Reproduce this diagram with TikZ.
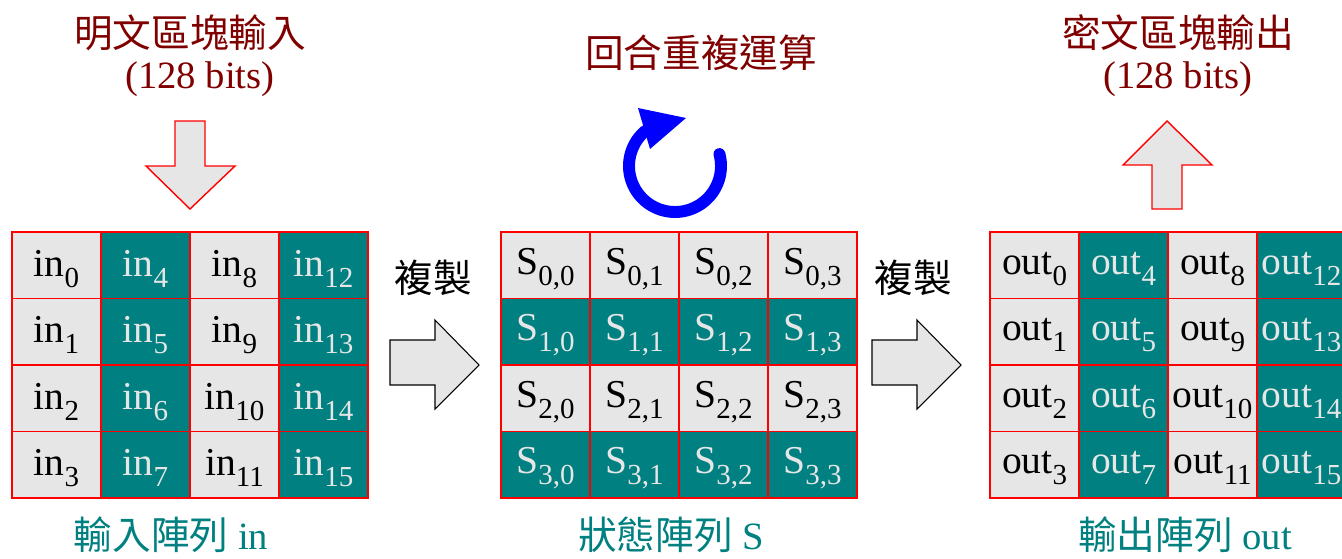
\documentclass[tikz,border=0pt]{standalone}
\usepackage{fontspec}
\setmainfont{Liberation Serif}
\newfontfamily\cjk{Noto Sans CJK TC}
\definecolor{tealc}{HTML}{008080}
\definecolor{cellgray}{HTML}{E6E6E6}
\definecolor{darkred}{HTML}{800000}
\newcommand\sbx[1]{\raisebox{-0.6ex}{\fontsize{16.5}{16.5}\selectfont #1}}
\tikzset{
  cellg/.style={draw=red, line width=0.8pt, fill=cellgray, minimum width=89*0.5669pt, minimum height=66.5*0.5669pt, inner sep=0pt},
  cellt/.style={cellg, fill=tealc},
  celltext/.style={yshift=-2pt, inner sep=0pt, font=\fontsize{22.5}{22.5}\selectfont},
  title/.style={text=darkred, font=\fontsize{22}{26}\selectfont, align=center},
  blabel/.style={text=tealc, font=\fontsize{22}{26}\selectfont},
  clabel/.style={text=black, font=\fontsize{22}{26}\selectfont},
  bigarrowr/.style={draw=red, fill=cellgray, line width=0.8pt},
  bigarrowk/.style={draw=black, fill=cellgray, line width=0.6pt}
}
\begin{document}
\begin{tikzpicture}[x=0.02cm, y=-0.02cm]
\useasboundingbox (0,0) rectangle (1342,558);
% grid 1 (in)
\foreach \c in {0,1,2,3}{
  \foreach \r in {0,1,2,3}{
    \pgfmathtruncatemacro\idx{4*\c+\r}
    \pgfmathtruncatemacro\odd{mod(\c,2)}
    \ifnum\odd=0
      \node[cellg] (in-\r-\c) at ({12+89*\c+44.5},{232+66.5*\r+33.25}) {};
      \def\tc{black}
    \else
      \node[cellt] (in-\r-\c) at ({12+89*\c+44.5},{232+66.5*\r+33.25}) {};
      \def\tc{cellgray}
    \fi
    \node[celltext, text=\tc] (inT-\r-\c) at (in-\r-\c) {in\sbx{\idx}};
  }
}
% grid 2 (S)
\foreach \c in {0,1,2,3}{
  \foreach \r in {0,1,2,3}{
    \pgfmathtruncatemacro\odd{mod(\r,2)}
    \ifnum\odd=0
      \node[cellg] (s-\r-\c) at ({501+89*\c+44.5},{232+66.5*\r+33.25}) {};
      \def\tc{black}
    \else
      \node[cellt] (s-\r-\c) at ({501+89*\c+44.5},{232+66.5*\r+33.25}) {};
      \def\tc{cellgray}
    \fi
    \node[celltext, text=\tc] (sT-\r-\c) at (s-\r-\c) {S\sbx{\r,\c}};
  }
}
% grid 3 (out)
\foreach \c in {0,1,2,3}{
  \foreach \r in {0,1,2,3}{
    \pgfmathtruncatemacro\idx{4*\c+\r}
    \pgfmathtruncatemacro\odd{mod(\c,2)}
    \ifnum\odd=0
      \node[cellg] (out-\r-\c) at ({990+89*\c+44.5},{232+66.5*\r+33.25}) {};
      \def\tc{black}
    \else
      \node[cellt] (out-\r-\c) at ({990+89*\c+44.5},{232+66.5*\r+33.25}) {};
      \def\tc{cellgray}
    \fi
    \node[celltext, text=\tc] (outT-\r-\c) at (out-\r-\c) {out\sbx{\idx}};
  }
}
% titles
\node[title] (t1) at (190,33) {\cjk 明文區塊輸入};
\node[title] (t1b) at (200,79) {(128 bits)};
\node[title] (t2) at (701,53) {\cjk 回合重複運算};
\node[title] (t3) at (1178,33) {\cjk 密文區塊輸出};
\node[title] (t3b) at (1178,79) {(128 bits)};
% bottom labels
\node[blabel] (b1) at (171,535) {{\cjk 輸入陣列} in};
\node[blabel] (b2) at (671,535) {{\cjk 狀態陣列} S};
\node[blabel] (b3) at (1185,535) {{\cjk 輸出陣列} out};
% copy labels
\node[clabel] (c1) at (433,278) {\cjk 複製};
\node[clabel] (c2) at (913,278) {\cjk 複製};
% down arrow
\draw[bigarrowr] (175,121) -- (205,121) -- (205,166) -- (235,166) -- (190,209) -- (146,166) -- (175,166) -- cycle;
% up arrow
\draw[bigarrowr] (1167,121) -- (1212,165) -- (1182,165) -- (1182,209) -- (1152,209) -- (1152,165) -- (1123,165) -- cycle;
% right arrows
\draw[bigarrowk] (390,340) -- (435,340) -- (435,320) -- (479,365) -- (435,409) -- (435,385) -- (390,385) -- cycle;
\draw[bigarrowk] (872,340) -- (917,340) -- (917,320) -- (961,365) -- (917,409) -- (917,385) -- (872,385) -- cycle;
% circular arrow
\draw[blue, line width=6.8pt, line cap=round] plot[domain=-15:229, samples=80, smooth] ({675+46*cos(\x)},{166+46*sin(\x)});
\fill[blue] (638,108) -- (686,118) -- (650,149) -- cycle;
\end{tikzpicture}
\end{document}
